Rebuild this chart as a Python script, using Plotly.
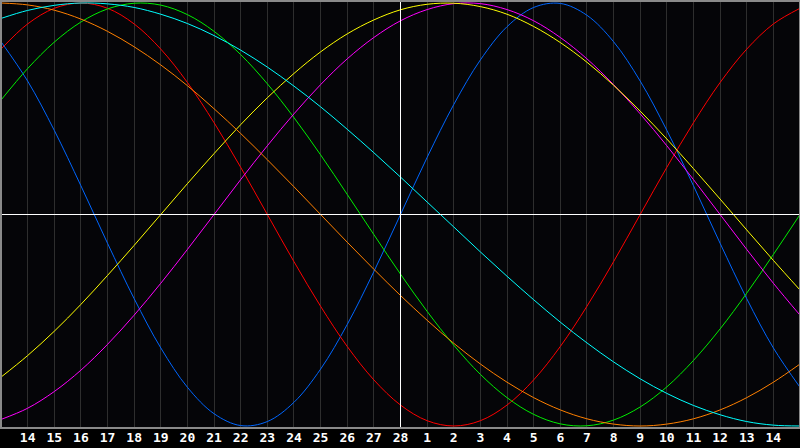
import plotly.graph_objects as go

# Day index 0..30 (13 Feb .. 15 Mar); labels on days 1..29
days = list(range(31))
tick_pos = list(range(1, 30))
tick_labels = ["14", "15", "16", "17", "18", "19", "20", "21", "22", "23", "24", "25",
               "26", "27", "28", "1", "2", "3", "4", "5", "6", "7", "8", "9", "10",
               "11", "12", "13", "14"]
today_idx = 15
y_lim = 1.0095

physical = [0.817, 0.631, 0.398, 0.136, -0.136, -0.398, -0.631, -0.817, -0.942, -0.998,
            -0.979, -0.888, -0.731, -0.520, -0.270, 0.0, 0.270, 0.520, 0.731, 0.888,
            0.979, 0.998, 0.942, 0.817, 0.631, 0.398, 0.136, -0.136, -0.398, -0.631, -0.817]
emotional = [0.782, 0.901, 0.975, 1.0, 0.975, 0.901, 0.782, 0.624, 0.434, 0.223,
             0.0, -0.223, -0.434, -0.624, -0.782, -0.901, -0.975, -1.0, -0.975, -0.901,
             -0.782, -0.624, -0.434, -0.223, 0.0, 0.223, 0.434, 0.624, 0.782, 0.901, 0.975]
intellectual = [0.541, 0.690, 0.815, 0.910, 0.972, 0.999, 0.990, 0.945, 0.866, 0.756,
                0.618, 0.458, 0.282, 0.095, -0.095, -0.282, -0.458, -0.618, -0.756, -0.866,
                -0.945, -0.990, -0.999, -0.972, -0.910, -0.815, -0.690, -0.541, -0.372, -0.189, 0.0]
intuitive = [-0.969, -0.916, -0.837, -0.736, -0.614, -0.476, -0.325, -0.165, 0.0, 0.165,
             0.325, 0.476, 0.614, 0.736, 0.837, 0.916, 0.969, 0.997, 0.997, 0.969,
             0.916, 0.837, 0.736, 0.614, 0.476, 0.325, 0.165, 0.0, -0.165, -0.325, -0.476]
aesthetic = [-0.769, -0.667, -0.552, -0.425, -0.288, -0.146, 0.0, 0.146, 0.288, 0.425,
             0.552, 0.667, 0.769, 0.854, 0.920, 0.968, 0.994, 0.999, 0.983, 0.947,
             0.889, 0.813, 0.720, 0.611, 0.489, 0.357, 0.217, 0.073, -0.073, -0.217, -0.357]
awareness = [1.0, 0.991, 0.966, 0.924, 0.866, 0.793, 0.707, 0.609, 0.5, 0.383,
             0.259, 0.131, 0.0, -0.131, -0.259, -0.383, -0.5, -0.609, -0.707, -0.793,
             -0.866, -0.924, -0.966, -0.991, -1.0, -0.991, -0.966, -0.924, -0.866, -0.793, -0.707]
spiritual = [0.927, 0.965, 0.989, 1.0, 0.996, 0.979, 0.947, 0.903, 0.846, 0.777,
             0.697, 0.607, 0.509, 0.403, 0.292, 0.177, 0.059, -0.059, -0.177, -0.292,
             -0.403, -0.509, -0.607, -0.697, -0.777, -0.846, -0.903, -0.947, -0.979, -0.996, -1.0]

series = [
    ("Physical", physical, "#0066ff"),
    ("Emotional", emotional, "#ff0000"),
    ("Intellectual", intellectual, "#00ee00"),
    ("Intuitive", intuitive, "#ff00ff"),
    ("Aesthetic", aesthetic, "#ffff00"),
    ("Awareness", awareness, "#ff8000"),
    ("Spiritual", spiritual, "#00ffff"),
]

fig = go.Figure()
for name, vals, col in series:
    fig.add_trace(go.Scatter(x=days, y=vals, mode="lines", name=name,
                             line=dict(color=col, width=1, shape="spline", smoothing=1.0),
                             hoverinfo="skip"))

fig.update_layout(
    width=800, height=448,
    margin=dict(l=1, r=0, t=1, b=20),
    paper_bgcolor="#000000",
    plot_bgcolor="#050508",
    showlegend=False,
    xaxis=dict(range=[days[0], days[-1]], tickmode="array", tickvals=tick_pos, ticktext=tick_labels,
               showgrid=True, gridcolor="#2e2e2e", gridwidth=1, zeroline=False,
               ticks="", showline=False, fixedrange=True,
               tickfont=dict(family="DejaVu Sans Mono", size=13, color="#ffffff", weight="bold")),
    yaxis=dict(range=[-y_lim, y_lim], showgrid=False, zeroline=False, showticklabels=False,
               ticks="", fixedrange=True),
    shapes=[
        dict(type="line", xref="x", yref="y", x0=today_idx, x1=today_idx, y0=-y_lim, y1=y_lim,
             line=dict(color="#ffffff", width=1), layer="above"),
        dict(type="line", xref="x", yref="y", x0=days[0], x1=days[-1], y0=0, y1=0,
             line=dict(color="#ffffff", width=1), layer="above"),
        dict(type="rect", xref="paper", yref="paper", x0=0, x1=1, y0=0, y1=1,
             line=dict(color="#8a8a8a", width=2), layer="above"),
    ],
)

fig.write_html("out.html", config={"displayModeBar": False},
               post_script="document.body.style.margin='0';document.body.style.padding='0';"
                           "document.body.style.background='#000';")
